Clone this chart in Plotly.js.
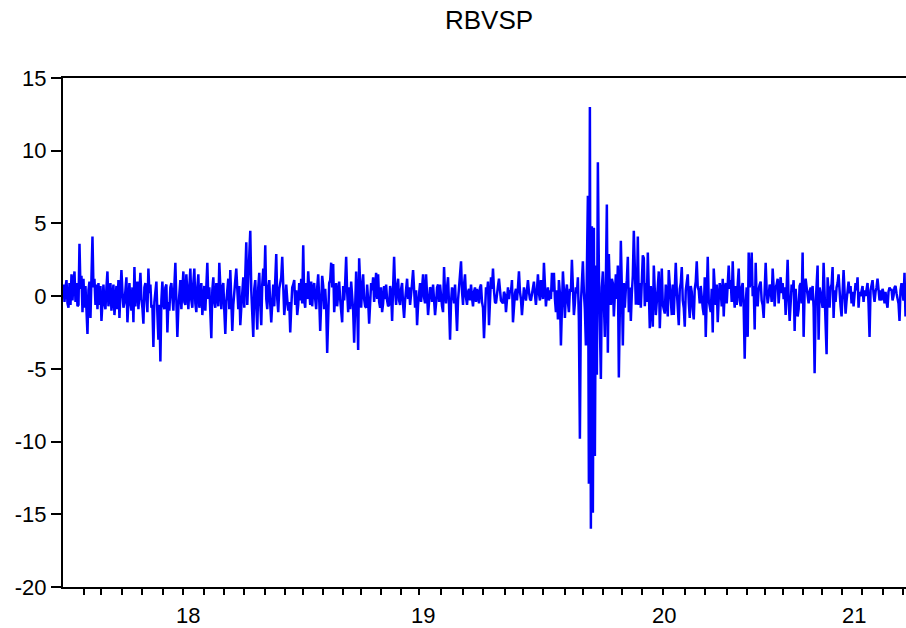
<!DOCTYPE html>
<html><head><meta charset="utf-8">
<script src="https://cdn.plot.ly/plotly-3.0.1.min.js"></script>
<style>html,body{margin:0;padding:0;background:#fff}#chart{width:906px;height:628px}</style>
</head><body><div id="chart"></div>
<script>
const seriesName = 'RBVSP';

// daily returns (%), one value per trading day
const r2018 = [
0.8,-0.4,0.6,1.1,-0.5,-0.8,0.9,-0.6,1.5,-0.3,
0.9,1.7,-0.4,0.9,-0.7,-0.6,3.6,0.5,1.4,-1.1,
1.2,-0.8,0.7,-0.9,-2.6,0.4,1.0,-1.5,0.7,4.1,
0.6,1.2,-0.6,0.8,-0.9,0.9,-0.6,0.7,-1.7,-0.4,
0.8,-0.5,-0.9,0.6,1.7,-0.7,0.4,0.9,-1.0,0.3,
0.8,-1.3,-0.5,0.7,-0.9,1.1,-1.5,0.4,1.8,0.3,
-0.8,-0.5,0.9,1.3,-1.8,-0.6,0.9,-0.4,-1.0,0.6,
-1.8,2.0,-0.7,0.5,1.0,-0.9,0.4,1.6,-0.2,-0.8,
-1.9,0.6,0.9,-0.7,-1.1,1.9,0.2,0.8,-0.8,-0.6,
-3.5,-0.4,0.7,1.0,-1.2,-3.0,-0.6,-4.5,-0.3,1.0,
-0.6,-0.9,0.6,0.8,-2.5,-0.4,-1.0,0.6,0.9,-0.5,
-1.0,0.7,2.3,-0.3,-2.8,-0.8,0.5,1.1,-0.9,0.4,
1.7,-0.4,-0.6,1.5,0.2,-0.9,0.6,1.9,-0.3,-0.8,
0.9,1.9,-0.5,-1.1,0.6,1.5,-0.8,0.3,0.9,-1.3,
-0.5,0.7,-1.0,0.8,2.3,-0.2,0.6,-1.1,-2.9,0.4,
1.3,-0.4,-0.8,0.9,-0.2,-0.7,2.3,0.3,-0.9,0.6,
0.9,-1.0,-2.6,-0.4,0.7,1.2,-0.9,1.8,-0.3,-2.4,
-0.6,0.6,1.1,1.9,-0.3,-0.9,0.7,-2.0,-0.8,0.6,
1.3,-0.8,0.9,3.7,-0.6,1.2,2.2,4.5,0.4,-0.9,
-2.8,0.5,1.1,-0.7,-2.3,0.6,1.6,-0.5,-2.0,0.8,
1.9,0.7,3.5,-0.2,-0.9,0.6,1.1,-0.6,-1.8,-0.5,
0.8,-0.7,0.9,2.9,-0.2,-1.1,0.5,0.9,1.3,2.7,
-0.3,-1.3,-0.5,0.8,-0.2,-1.0,-0.4,-2.5,-0.8,0.6,
0.8,1.1,-0.6,0.4,-1.3,-0.6,0.9,-0.3,1.2,-0.5
];
const r2019 = [
3.5,-0.3,-0.8,0.9,-0.2,1.7,0.4,-0.6,1.0,-0.7,
0.5,0.9,-0.2,-0.9,0.6,1.5,-0.2,-2.4,-0.5,1.4,
0.7,-0.9,0.5,-0.8,-3.9,-0.5,0.9,1.1,2.3,0.6,
2.2,-1.1,0.4,0.9,-0.7,0.6,1.0,-0.2,-0.8,-1.8,
0.7,-0.3,0.9,2.7,0.3,-1.1,0.6,-0.9,1.0,-0.2,
-1.0,-3.2,0.5,1.7,-0.5,-3.7,2.6,0.5,-0.8,0.6,
1.5,-0.2,-0.7,-0.8,0.8,-0.3,-1.9,-0.5,0.9,0.4,
1.3,-0.4,0.6,1.6,-0.2,1.5,-0.4,-0.8,0.6,-1.1,
-0.5,0.7,-0.2,0.8,-0.3,-0.7,-0.6,0.7,0.3,-1.7,
0.6,2.7,0.4,-0.6,0.7,1.2,-0.3,-0.6,0.5,0.9,
-0.6,-1.5,-0.3,0.7,1.2,-0.2,0.6,-0.6,0.5,0.9,
1.8,-0.2,-0.8,0.4,-2.0,-0.6,0.5,0.9,-0.4,0.6,
1.5,-0.1,-0.5,1.5,0.3,-1.3,-0.4,0.6,0.5,-0.4,
0.8,-0.2,-1.3,-0.5,0.6,0.8,-0.4,0.8,-0.2,-0.7,
-1.1,2.0,0.2,-0.5,0.6,1.3,-0.6,-3.0,-0.4,0.6,
0.3,-0.5,0.8,-0.7,-2.4,-0.3,0.7,1.0,2.4,0.3,
-0.6,0.8,1.5,-0.1,-0.6,0.3,0.5,-0.3,0.8,-0.1,
-0.7,0.3,0.6,-0.4,0.5,0.1,-0.5,0.6,0.8,-0.4,
-0.8,-2.9,-0.5,0.6,0.2,1.0,-2.0,0.3,1.3,0.5,
1.9,0.4,-0.4,-0.5,0.3,0.7,1.2,0.2,-0.3,-0.4,
-0.5,0.3,0.1,-1.1,0.2,0.6,-0.2,0.4,0.3,1.1,
-1.8,-0.7,0.2,0.5,-0.3,0.6,1.7,0.3,-0.2,-1.3,
-0.4,0.6,0.2,-0.3,0.4,1.1,0.3,-0.2,-0.3,0.2,
0.5,1.0,0.1,-0.6,0.4,1.5,0.2,-0.3,1.1,0.4,
-0.2
];
const r2020 = [
2.3,0.3,-0.7,0.2,0.6,-0.3,0.4,-0.2,1.6,0.3,
1.6,-0.2,-1.1,0.4,-1.6,1.1,0.2,-3.4,-0.3,1.7,
0.4,-1.5,0.2,0.8,-0.4,-1.1,0.5,0.3,2.5,0.2,
-1.3,-0.5,0.6,0.2,1.3,-1.7,-9.8,-0.5,0.8,2.4,
0.3,-0.9,-3.4,0.5,6.9,-12.9,13.0,-16.0,4.8,-14.9,
4.7,-11.0,2.1,-5.4,9.2,1.8,-1.2,-5.7,0.6,1.7,
-0.4,-2.8,0.9,6.3,-3.9,2.9,0.4,-0.6,1.2,0.9,
-1.4,0.3,1.5,-0.2,2.1,-5.6,0.4,3.8,0.6,-3.4,
0.9,-0.8,0.5,1.1,2.7,-1.1,0.6,-1.7,0.2,1.4,
4.5,0.6,-0.5,-0.5,4.1,-0.6,0.9,-0.8,1.2,2.8,
2.6,-0.7,0.9,-0.4,3.0,0.4,-2.2,0.7,-0.9,-2.1,
2.1,0.3,-1.3,-0.4,0.6,1.7,-2.2,0.3,1.9,-0.6,
-0.9,-1.2,0.8,-0.5,-1.4,1.8,0.6,-0.7,-1.3,0.8,
-1.3,0.5,2.3,0.4,-0.9,-2.0,0.5,0.9,2.0,-0.3,
-0.8,-2.1,0.4,0.9,1.5,-0.4,-1.5,0.7,0.3,-0.9,
-1.6,0.5,1.0,2.4,0.6,0.4,-0.5,0.7,-0.4,-0.8,
-1.3,1.3,-2.8,0.6,2.7,-0.3,-0.8,-1.1,0.5,-2.5,
1.9,0.4,-0.6,0.8,-1.8,-0.2,0.9,0.3,-0.7,1.2,
-1.4,0.5,0.9,-0.5,0.6,2.1,0.5,1.1,-0.4,2.4,
0.2,-0.8,0.7,-0.6,0.8,1.9,-0.3,-0.7,0.6,0.9,
-0.8,-4.3,-0.5,0.6,-2.8,3.0,0.6,1.2,3.0,0.0,
0.7,-2.3,2.3,-0.3,-0.7,0.5,0.8,1.0,-0.3,-0.6,
-1.5,0.6,2.3,0.4,-0.5,0.0,0.8,0.5,-0.4,1.9,
0.2,-0.7,0.6,0.8,1.2,-0.5,0.6,1.3,0.2,0.9
];
const r2021 = [
-0.2,0.6,-1.3,0.5,2.5,-0.3,-1.7,-0.5,0.8,0.3,
1.1,-2.4,0.5,-0.6,-1.4,-0.9,0.7,0.9,-0.5,3.0,
-2.8,0.3,1.2,0.6,0.2,-0.5,0.3,0.6,-0.3,0.7,
-0.8,-5.3,-0.6,0.6,2.1,-3.0,0.6,0.2,-0.6,-0.8,
2.3,0.3,-0.9,-4.0,1.3,0.2,-0.8,0.6,0.8,2.0,
-1.5,0.4,-0.4,0.6,0.9,1.5,0.2,-0.7,-1.4,0.5,
1.8,0.3,-1.2,-0.3,0.6,1.0,0.2,0.7,-0.5,0.3,
-0.7,0.4,0.9,0.4,1.3,-0.8,0.3,0.0,0.5,0.7,
-0.4,0.4,0.0,0.6,0.9,-0.5,-2.8,0.4,0.7,1.1,
0.2,-0.4,0.3,0.6,1.2,0.6,-0.3,0.4,-0.3,0.5,
0.2,-0.5,0.3,-0.4,-0.8,0.3,0.6,0.4,0.5,-0.3,
0.0,0.6,0.7,0.2,-0.2,-0.5,-1.7,0.4,0.9,0.2,
-0.3,1.6,-1.4
];

// trading days per month (calendar for the axis ticks)
const months2018 = [21,17,21,20,21,20,21,20,20,21,20,18];
const months2019 = [20,20,18,20,20,18,22,22,20,23,18,20];
const months2020 = [22,18,20,19,20,21,22,20,22,20,18,18];
const months2021 = [20,19,20,20,21,20];

const yearLabels = ['18','19','20','21'];
const yTickVals = [-20,-15,-10,-5,0,5,10,15];

const values = r2018.concat(r2019, r2020, r2021);
const idx = values.map((_, i) => i);
const N = values.length;

// axis tick positions from the calendar (year boundaries after the first year)
const yearLens = [r2018.length, r2019.length, r2020.length, r2021.length];
const majorVals = [];
let p = 0;
yearLens.forEach((l, i) => { if (i > 0) majorVals.push(p - 0.5); p += l; });
const minorVals = [];
let q = 0;
[months2018, months2019, months2020, months2021].forEach(arr => {
  arr.forEach(d => { q += d; minorVals.push(q - 0.5); });
});
// year label positions within each year's span
const labelPos = [124.5, 359.5, 601.5, 791.5];

const font = 'Liberation Sans, Arial, sans-serif';

const trace = {
  x: idx, y: values, type: 'scatter', mode: 'lines',
  line: {color: '#0000FF', width: 2.5},
  hoverinfo: 'skip', showlegend: false
};

const layout = {
  width: 906, height: 628,
  margin: {l: 63, r: 0, t: 78, b: 41, pad: 0},
  paper_bgcolor: '#fff', plot_bgcolor: '#fff',
  title: {
    text: seriesName,
    font: {family: font, size: 26, color: '#000'},
    xref: 'container', yref: 'container',
    x: 489/906, xanchor: 'center', y: 1 - 20/628, yanchor: 'middle'
  },
  xaxis: {
    range: [-0.5, N - 0.5],
    showline: true, linecolor: '#000', linewidth: 2, mirror: true,
    showgrid: false, zeroline: false,
    tickmode: 'array', tickvals: majorVals, ticktext: majorVals.map(() => ''),
    ticks: 'outside', ticklen: 11, tickwidth: 2, tickcolor: '#000',
    minor: {tickmode: 'array', tickvals: minorVals, ticks: 'outside', ticklen: 6, tickwidth: 2, tickcolor: '#000', showgrid: false},
    fixedrange: true
  },
  yaxis: {
    range: [-20, 15],
    showline: true, linecolor: '#000', linewidth: 2, mirror: false,
    showgrid: false, zeroline: false,
    tickmode: 'array', tickvals: yTickVals, ticktext: yTickVals.map(String),
    ticks: 'outside', ticklen: 10, tickwidth: 2, tickcolor: '#000',
    tickfont: {family: font, size: 22, color: '#000'},
    fixedrange: true
  },
  annotations: yearLabels.map((t, i) => ({
    text: t, x: labelPos[i], xref: 'x', y: 0, yref: 'paper',
    yanchor: 'middle', xanchor: 'center', yshift: -28, showarrow: false,
    font: {family: font, size: 22, color: '#000'}
  }))
};

Plotly.newPlot('chart', [trace], layout, {displayModeBar: false, staticPlot: true});
</script>
</body></html>
